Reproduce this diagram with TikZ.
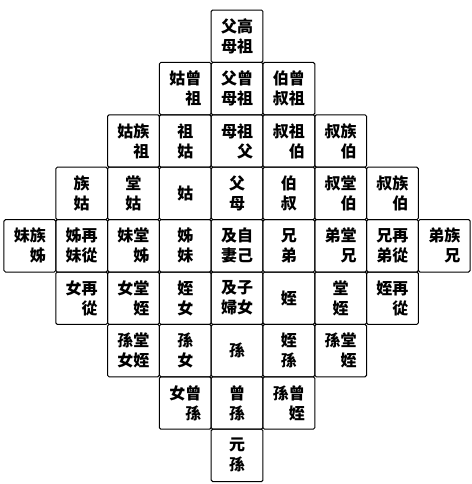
\documentclass[tikz,border=0pt]{standalone}
\usepackage{fontspec}
\newfontfamily\cjk{Noto Sans CJK TC}

\begin{document}
\begin{tikzpicture}[x=51.8pt,y=-52.4pt,
    kin/.style={draw,line width=1pt,rounded corners=1.5pt,minimum width=51.8pt,minimum height=52.4pt,
      inner sep=0pt,align=center,font=\cjk\bfseries\fontsize{16}{20}\selectfont},
    kinr/.style={kin,align=right,text width=32pt}]
      \useasboundingbox (-0.577,-0.691) rectangle (8.516,8.546);
      \draw
        (4,0) node[kin] (r0c4){父高\\母祖}
        (3,1) node[kinr] (r1c3){姑曾\\祖}
        (4,1) node[kin] (r1c4){父曾\\母祖}
        (5,1) node[kin] (r1c5){伯曾\\叔祖}
        (2,2) node[kinr] (r2c2){姑族\\祖}
        (3,2) node[kin] (r2c3){祖\\姑}
        (4,2) node[kinr] (r2c4){母祖\\父}
        (5,2) node[kinr] (r2c5){叔祖\\伯}
        (6,2) node[kinr] (r2c6){叔族\\伯}
        (1,3) node[kin] (r3c1){族\\姑}
        (2,3) node[kin] (r3c2){堂\\姑}
        (3,3) node[kin] (r3c3){姑}
        (4,3) node[kin] (r3c4){父\\母}
        (5,3) node[kin] (r3c5){伯\\叔}
        (6,3) node[kinr] (r3c6){叔堂\\伯}
        (7,3) node[kinr] (r3c7){叔族\\伯}
        (0,4) node[kinr] (r4c0){妹族\\姊}
        (1,4) node[kin] (r4c1){姊再\\妹從}
        (2,4) node[kinr] (r4c2){妹堂\\姊}
        (3,4) node[kin] (r4c3){姊\\妹}
        (4,4) node[kin] (r4c4){及自\\妻己}
        (5,4) node[kin] (r4c5){兄\\弟}
        (6,4) node[kinr] (r4c6){弟堂\\兄}
        (7,4) node[kin] (r4c7){兄再\\弟從}
        (8,4) node[kinr] (r4c8){弟族\\兄}
        (1,5) node[kinr] (r5c1){女再\\從}
        (2,5) node[kinr] (r5c2){女堂\\姪}
        (3,5) node[kin] (r5c3){姪\\女}
        (4,5) node[kin] (r5c4){及子\\婦女}
        (5,5) node[kin] (r5c5){姪}
        (6,5) node[kin] (r5c6){堂\\姪}
        (7,5) node[kinr] (r5c7){姪再\\從}
        (2,6) node[kin] (r6c2){孫堂\\女姪}
        (3,6) node[kin] (r6c3){孫\\女}
        (4,6) node[kin] (r6c4){孫}
        (5,6) node[kin] (r6c5){姪\\孫}
        (6,6) node[kinr] (r6c6){孫堂\\姪}
        (3,7) node[kinr] (r7c3){女曾\\孫}
        (4,7) node[kin] (r7c4){曾\\孫}
        (5,7) node[kinr] (r7c5){孫曾\\姪}
        (4,8) node[kin] (r8c4){元\\孫};
    \end{tikzpicture}
\end{document}
